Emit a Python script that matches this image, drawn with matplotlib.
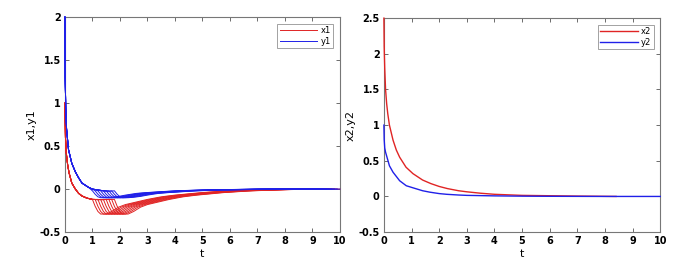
import matplotlib
matplotlib.use("Agg")
import matplotlib.pyplot as plt
import numpy as np

# left panel: common part before the switch
x1_base_t = [0, 0.02, 0.05, 0.1, 0.15, 0.25, 0.38, 0.5, 0.62, 0.8, 1.0, 1.2, 1.4, 1.6, 1.8]
x1_base_v = [1.0, 0.6, 0.42, 0.28, 0.19, 0.07, 0.0, -0.05, -0.08, -0.105, -0.12, -0.122, -0.122, -0.12, -0.118]
y1_base_t = [0, 0.01, 0.03, 0.06, 0.13, 0.25, 0.38, 0.5, 0.62, 0.86, 1.0, 1.2, 1.4, 1.6, 1.8]
y1_base_v = [2.0, 1.3, 0.95, 0.7, 0.46, 0.3, 0.2, 0.13, 0.07, 0.02, 0.0, -0.01, -0.02, -0.025, -0.03]

# switch times of the family of curves
switch_t = [1.0, 1.1, 1.2, 1.3, 1.4, 1.5, 1.6, 1.7, 1.8]

# response after the switch, time measured from the switch
dip_dt = [0, 0.1, 0.2, 0.3, 0.5, 0.7, 0.95, 1.2, 1.6, 2.0, 2.5, 3.0, 4.0, 5.0, 6.0, 7.0, 8.2]
x1_dip = [-0.12, -0.2, -0.26, -0.29, -0.29, -0.26, -0.21, -0.18, -0.15, -0.12, -0.09, -0.07, -0.04, -0.02, -0.01, 0.0, 0.0]
y1_dip = [-0.02, -0.06, -0.09, -0.1, -0.1, -0.095, -0.085, -0.07, -0.05, -0.04, -0.03, -0.02, -0.01, -0.005, 0.0, 0.0, 0.0]

# right panel
x2_t = [0, 0.01, 0.03, 0.06, 0.1, 0.14, 0.2, 0.33, 0.45, 0.57, 0.8, 1.05, 1.4, 1.7, 2.0, 2.3, 2.7, 3.0, 3.5, 4.0, 5.0, 6.0, 7.0, 8.4]
x2_v = [2.5, 2.1, 1.8, 1.5, 1.3, 1.16, 1.0, 0.79, 0.65, 0.55, 0.41, 0.32, 0.23, 0.18, 0.14, 0.11, 0.08, 0.065, 0.045, 0.03, 0.015, 0.01, 0.005, 0.0]
y2_t = [0, 0.01, 0.03, 0.06, 0.09, 0.2, 0.33, 0.57, 0.81, 1.06, 1.4, 1.66, 2.0, 2.27, 2.7, 3.0, 4.0, 5.0, 6.0, 8.0, 10.0]
y2_v = [1.0, 0.8, 0.68, 0.62, 0.58, 0.43, 0.34, 0.22, 0.15, 0.12, 0.08, 0.06, 0.04, 0.03, 0.02, 0.015, 0.008, 0.004, 0.002, 0.0, 0.0]

RED = '#e02424'
BLUE = '#2020e8'
LW = 0.7

plt.rcParams['font.family'] = 'DejaVu Sans'
fig = plt.figure(figsize=(6.98, 2.75), dpi=100)
ax1 = fig.add_axes([0.093, 0.156, 0.394, 0.782])
ax2 = fig.add_axes([0.550, 0.156, 0.396, 0.778])


def family(base_t, base_v, dip_v):
    curves = []
    for ts in switch_t:
        t = [bt for bt in base_t if bt < ts] + [ts + d for d in dip_dt]
        v = [bv for bt, bv in zip(base_t, base_v) if bt < ts] + list(dip_v)
        keep = [i for i, tt in enumerate(t) if tt <= 10]
        curves.append(([t[i] for i in keep], [v[i] for i in keep]))
    return curves


for i, (t, v) in enumerate(family(x1_base_t, x1_base_v, x1_dip)):
    ax1.plot(t, v, color=RED, lw=LW, zorder=3, clip_on=False,
             label='x1' if i == 0 else None)
for i, (t, v) in enumerate(family(y1_base_t, y1_base_v, y1_dip)):
    ax1.plot(t, v, color=BLUE, lw=LW, zorder=3, clip_on=False,
             label='y1' if i == 0 else None)

ax2.plot(x2_t, x2_v, color=RED, lw=1.0, zorder=3, clip_on=False, label='x2')
ax2.plot(y2_t, y2_v, color=BLUE, lw=1.0, zorder=3, clip_on=False, label='y2')

ax1.set_ylim(-0.5, 2)
ax1.set_yticks([-0.5, 0, 0.5, 1, 1.5, 2])
ax1.set_yticklabels(['-0.5', '0', '0.5', '1', '1.5', '2'])
ax1.set_ylabel('x1,y1', fontsize=8, labelpad=2)
ax2.set_ylim(-0.5, 2.5)
ax2.set_yticks([-0.5, 0, 0.5, 1, 1.5, 2, 2.5])
ax2.set_yticklabels(['-0.5', '0', '0.5', '1', '1.5', '2', '2.5'])
ax2.set_ylabel('x2,y2', fontsize=8, labelpad=2)

for ax in (ax1, ax2):
    ax.set_xlim(0, 10)
    ax.set_xticks(range(0, 11))
    ax.set_xlabel('t', fontsize=8, labelpad=2)
    ax.tick_params(direction='in', top=True, right=True, length=3,
                   width=0.6, labelsize=7, pad=3, color='#555555')
    for lbl in ax.get_xticklabels() + ax.get_yticklabels():
        lbl.set_fontweight('bold')
    for s in ax.spines.values():
        s.set_color('#777777')
        s.set_linewidth(0.8)
    leg = ax.legend(loc='upper right', fontsize=6, handlelength=4.5,
                    frameon=True, fancybox=False, borderpad=0.3,
                    labelspacing=0.2, handletextpad=0.4, borderaxespad=0.8)
    leg.get_frame().set_edgecolor('#777777')
    leg.get_frame().set_linewidth(0.6)

fig.savefig('out.png', dpi=100)
